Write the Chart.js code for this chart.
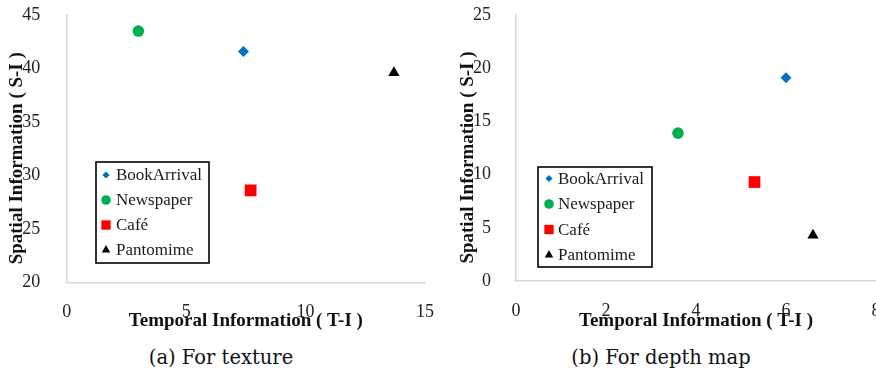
<!DOCTYPE html>
<html>
<head>
<meta charset="utf-8">
<script src="https://cdn.jsdelivr.net/npm/chart.js@4/dist/chart.umd.min.js"></script>
<style>
    html, body { margin: 0; padding: 0; background: #fff; overflow: hidden; }
    #wrap { position: relative; width: 876px; height: 374px; }
    .panel { position: absolute; top: 0; height: 340px; overflow: hidden; }
    .caption { position: absolute; top: 346px; font-family: "DejaVu Serif", serif; font-size: 19.5px; color: #111; white-space: nowrap; transform: translateX(-50%); }
</style>
</head>
<body>
<div id="wrap">
    <div class="panel" style="left:0; width:440px;"><canvas id="chartTexture" width="440" height="340"></canvas></div>
    <div class="panel" style="left:440px; width:436px;"><canvas id="chartDepth" width="460" height="340"></canvas></div>
    <div class="caption" style="left:221px;">(a) For texture</div>
    <div class="caption" style="left:661px;">(b) For depth map</div>
</div>
<script>
// ===== data =====
const seriesNames = ['BookArrival', 'Newspaper', 'Café', 'Pantomime'];
const seriesColors = ['#0070c0', '#00b050', '#ff0000', '#000000'];
const seriesStyles = ['rectRot', 'circle', 'rect', 'triangle'];
const pointRadii = [5.5, 5.8, 8.3, 6.5];
const legendRadii = [3.6, 4.8, 6.6, 4.9];

// (a) texture
const textureTI = [7.4, 3.0, 7.7, 13.7];
const textureSI = [41.6, 43.5, 28.6, 39.6];
const textureXTicks = [0, 5, 10, 15];
const textureYTicks = [20, 25, 30, 35, 40, 45];

// (b) depth map
const depthTI = [6.0, 3.6, 5.3, 6.6];
const depthSI = [19.1, 13.9, 9.3, 4.3];
const depthXTicks = [0, 2, 4, 6, 8];
const depthYTicks = [0, 5, 10, 15, 20, 25];

const xTitle = 'Temporal Information ( T-I )';
const yTitle = 'Spatial Information ( S-I )';

const SERIF = '"Liberation Serif", "Times New Roman", Times, serif';
const AXIS_GRAY = '#d9d9d9';
const TICK_FONT = { family: SERIF, size: 18 };
const TITLE_FONT = { family: SERIF, size: 19, weight: 'bold', lineHeight: 1 };

// legend box drawn inside the plot, like the original
const boxLegend = {
    id: 'boxLegend',
    afterDraw(chart, args, o) {
        const ctx = chart.ctx;
        ctx.save();
        ctx.lineWidth = 1.6;
        ctx.strokeStyle = '#000';
        ctx.strokeRect(o.x, o.y, o.w, o.h);
        ctx.font = '17px ' + SERIF;
        ctx.textBaseline = 'middle';
        ctx.textAlign = 'left';
        seriesNames.forEach((name, i) => {
            const y = o.rowY + i * o.rowGap;
            ctx.fillStyle = seriesColors[i];
            Chart.helpers.drawPoint(ctx, { pointStyle: seriesStyles[i], radius: legendRadii[i], rotation: 0, borderWidth: 0 }, o.markX, y);
            ctx.fillStyle = '#1a1a1a';
            ctx.fillText(name, o.textX, y + 1);
        });
        ctx.restore();
    }
};

function makeChart(id, xs, ys, xTicks, yTicks, geo) {
    const datasets = seriesNames.map((name, i) => ({
        label: name,
        data: [{ x: xs[i], y: ys[i] }],
        pointStyle: seriesStyles[i],
        pointRadius: pointRadii[i],
        pointBackgroundColor: seriesColors[i],
        pointBorderWidth: 0,
        showLine: false
    }));
    const step = (a) => a[1] - a[0];

    return new Chart(document.getElementById(id), {
        type: 'scatter',
        data: { datasets },
        plugins: [boxLegend],
        options: {
            responsive: false,
            animation: false,
            devicePixelRatio: 1,
            layout: { autoPadding: false, padding: { top: 15, right: geo.padRight, left: 0, bottom: 0 } },
            plugins: {
                legend: { display: false },
                tooltip: { enabled: false },
                boxLegend: geo.legend
            },
            scales: {
                x: {
                    type: 'linear',
                    min: xTicks[0], max: xTicks[xTicks.length - 1],
                    ticks: { stepSize: step(xTicks), color: '#222', font: TICK_FONT, padding: 11, maxRotation: 0 },
                    grid: { display: false },
                    border: { display: true, color: AXIS_GRAY, width: 1.5 },
                    title: { display: true, text: xTitle, color: '#111', font: TITLE_FONT, padding: { top: 0, bottom: 9 } },
                    // fixed axis band; the edge labels may overhang
                    afterFit: (s) => { s.height = geo.xHeight; s.paddingLeft = 0; s.paddingRight = 0; }
                },
                y: {
                    type: 'linear',
                    min: yTicks[0], max: yTicks[yTicks.length - 1],
                    ticks: { stepSize: step(yTicks), color: '#222', font: TICK_FONT, padding: geo.yPad },
                    grid: { display: false },
                    border: { display: true, color: AXIS_GRAY, width: 1.5 },
                    title: { display: true, text: yTitle + '    ', color: '#111', font: TITLE_FONT, padding: { top: geo.yTitlePad, bottom: 0 } },
                    afterFit: (s) => { s.width = geo.yWidth; s.paddingTop = 0; s.paddingBottom = 0; }
                }
            }
        }
    });
}

function drawAll() {
    makeChart('chartTexture', textureTI, textureSI, textureXTicks, textureYTicks, {
        padRight: 15, xHeight: 57.5, yWidth: 66.7, yPad: 18.5, yTitlePad: 7.5,
        legend: { x: 96, y: 162, w: 113, h: 101, markX: 106, textX: 116, rowY: 175, rowGap: 25 }
    });
    makeChart('chartDepth', depthTI, depthSI, depthXTicks, depthYTicks, {
        padRight: 24, xHeight: 59, yWidth: 76, yPad: 17, yTitlePad: 18.5,
        legend: { x: 98, y: 167, w: 114, h: 100, markX: 109, textX: 118, rowY: 178.5, rowGap: 25.5 }
    });
}

// make sure the serif faces are ready before the canvas text is drawn
Promise.all([
    document.fonts.load('18px "Liberation Serif"'),
    document.fonts.load('bold 19px "Liberation Serif"')
]).then(drawAll, drawAll);
</script>
</body>
</html>
